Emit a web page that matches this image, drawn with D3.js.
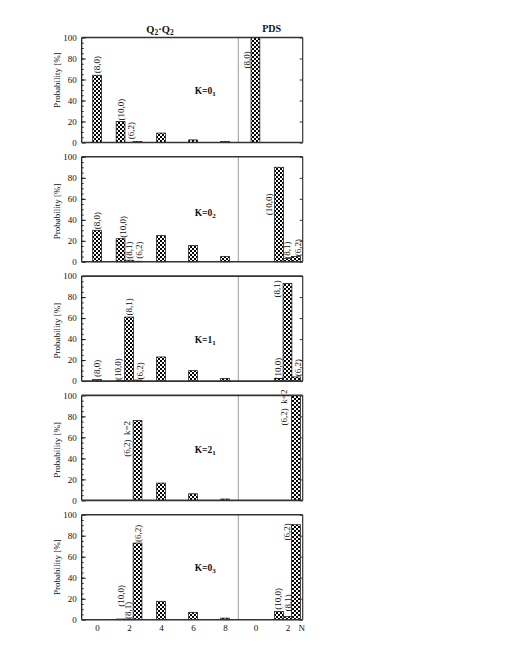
<!DOCTYPE html>
<html>
<head>
<meta charset="utf-8">
<script src="https://cdnjs.cloudflare.com/ajax/libs/d3/7.8.5/d3.min.js"></script>
<style>
  body { margin: 0; background: #fff; }
  svg { display: block; }
  text { font-family: "Liberation Serif", "Times New Roman", serif; fill: #111; }
</style>
</head>
<body>
<svg width="505" height="654"></svg>
<script>
// K state of each panel: [value, subscript]
const panelK = [["0", "1"], ["0", "2"], ["1", "1"], ["2", "1"], ["0", "3"]];

// bar slots (N); at N=2 the three irreps (10,0), (8,1), (6,2) sit side by side
const leftSlots = [0, 1.47, 2, 2.53, 4, 6, 8];
const rightSlots = [0, 1.47, 2, 2.53];

// probabilities [%] per panel, one value per slot
const leftValues = [
    [64, 20, 0, 1, 9, 2.5, 1],
    [30, 22, 1.5, 0.5, 25, 15.5, 5],
    [1.5, 0.5, 61, 1, 23, 10, 2.5],
    [0, 0, 0, 76, 16.5, 6.3, 1.3],
    [0, 0.6, 0.6, 73, 17.5, 7, 1.5]
];
const rightValues = [
    [100, 0, 0, 0],
    [0, 90, 3, 5],
    [0, 2.5, 93, 4],
    [0, 0, 0, 100],
    [0, 7.8, 3, 90.5]
];

// irrep labels: side, N position, height [%] where the text starts, text
const barLabels = [
    [["L", 0, 66, "(8,0)"], ["L", 1.5, 21, "(10,0)"], ["L", 2.12, 3, "(6,2)"],
     ["R", -0.55, 70.5, "(8,0)"]],
    [["L", 0, 31, "(8,0)"], ["L", 1.6, 23, "(10,0)"], ["L", 2.02, 2.8, "(8,1)"], ["L", 2.6, 2.8, "(6,2)"],
     ["R", 0.86, 44.4, "(10,0)"], ["R", 1.99, 2.8, "(8,1)"], ["R", 2.64, 5.3, "(6,2)"]],
    [["L", 0, 4, "(8,0)"], ["L", 1.33, 1, "(10,0)"], ["L", 2.02, 62.5, "(8,1)"], ["L", 2.69, 1.6, "(6,2)"],
     ["R", 1.32, 79.7, "(8,1)"], ["R", 1.39, 1.6, "(10,0)"], ["R", 2.64, 4.7, "(6,2)"]],
    [["L", 1.86, 41.5, "(6,2)  k=2"],
     ["R", 1.8, 71.4, "(6,2)  k=2"]],
    [["L", 1.48, 12.3, "(10,0)"], ["L", 1.96, 0.7, "(8,1)"], ["L", 2.59, 74, "(6,2)"],
     ["R", 1.39, 9.4, "(10,0)"], ["R", 2.01, 7.8, "(8,1)"], ["R", 1.98, 75.5, "(6,2)"]]
];

const yTicks = [0, 20, 40, 60, 80, 100];
const xTicksLeft = [0, 2, 4, 6, 8];
const xTicksRight = [0, 2];

// layout
const left = 81.7, mid = 238.3, right = 302.7;
const panelTop0 = 37.5, panelStep = 119.3, panelH = 105;
const barW = 8.8;
const kLabelN = 6.1;
const kLabelY = [46, 44, 36, 45, 46];
const yTitleShift = [-10, 2, 2, 2, 0];

const xL = d3.scaleLinear().domain([-0.96, 8.83]).range([left, mid]);
const xR = d3.scaleLinear().domain([-1.07, 2.95]).range([mid, right]);

const svg = d3.select("svg");

// dotted fill used by the bars
const pat = svg.append("defs").append("pattern")
    .attr("id", "dots")
    .attr("width", 4).attr("height", 4)
    .attr("patternUnits", "userSpaceOnUse");
pat.append("rect").attr("width", 4).attr("height", 4).attr("fill", "#fff");
pat.append("rect").attr("width", 2).attr("height", 2).attr("fill", "#000");
pat.append("rect").attr("x", 2).attr("y", 2).attr("width", 2).attr("height", 2).attr("fill", "#000");

// column titles
const title = svg.append("text")
    .attr("x", (left + mid) / 2).attr("y", 33)
    .attr("text-anchor", "middle")
    .style("font-size", "10.5px").style("font-weight", "bold");
title.append("tspan").text("Q");
title.append("tspan").attr("dy", 2).style("font-size", "7.5px").text("2");
title.append("tspan").attr("dy", -2).text("·Q");
title.append("tspan").attr("dy", 2).style("font-size", "7.5px").text("2");

svg.append("text")
    .attr("x", 271.7).attr("y", 32)
    .attr("text-anchor", "middle")
    .style("font-size", "10px").style("font-weight", "bold")
    .text("PDS");

panelK.forEach((k, i) => {
    const top = panelTop0 + i * panelStep;
    const y = d3.scaleLinear().domain([0, 100]).range([top + panelH, top]);
    const g = svg.append("g");

    // divider between the two sections
    g.append("line")
        .attr("x1", mid).attr("x2", mid)
        .attr("y1", top).attr("y2", top + panelH)
        .attr("stroke", "#999").attr("stroke-width", 1);

    // bars
    const bars = [];
    leftSlots.forEach((n, j) => { if (leftValues[i][j] > 0) bars.push({ x: xL(n), v: leftValues[i][j] }); });
    rightSlots.forEach((n, j) => { if (rightValues[i][j] > 0) bars.push({ x: xR(n), v: rightValues[i][j] }); });

    g.selectAll(".bar")
        .data(bars)
        .enter()
        .append("rect")
        .attr("class", "bar")
        .attr("x", d => d.x - barW / 2)
        .attr("y", d => y(d.v))
        .attr("width", barW)
        .attr("height", d => y(0) - y(d.v))
        .attr("fill", "url(#dots)")
        .attr("stroke", "#222")
        .attr("stroke-width", 0.8);

    // minor ticks every 5 %
    g.append("g")
        .attr("transform", `translate(${left},0)`)
        .call(d3.axisLeft(y).tickValues(d3.range(5, 100, 5)).tickSize(-2).tickFormat(""))
        .call(a => a.select(".domain").remove())
        .call(a => a.selectAll("line").attr("stroke", "#333"));

    // left axis
    g.append("g")
        .attr("transform", `translate(${left},0)`)
        .call(d3.axisLeft(y).tickValues(yTicks).tickSize(-4).tickPadding(5))
        .call(a => a.select(".domain").remove())
        .call(a => a.selectAll("line").attr("stroke", "#111"))
        .call(a => a.selectAll("text")
            .style("font-size", "9px")
            .style("font-family", "'Liberation Serif', serif"));

    // right axis ticks
    g.append("g")
        .attr("transform", `translate(${right},0)`)
        .call(d3.axisRight(y).tickValues(yTicks).tickSize(-3).tickFormat(""))
        .call(a => a.select(".domain").remove())
        .call(a => a.selectAll("line").attr("stroke", "#333"));

    // frame
    g.append("line").attr("x1", left).attr("x2", left).attr("y1", top).attr("y2", top + panelH)
        .attr("stroke", "#111").attr("stroke-width", 1.2);
    g.append("line").attr("x1", right).attr("x2", right).attr("y1", top).attr("y2", top + panelH)
        .attr("stroke", "#333").attr("stroke-width", 1.2);
    g.append("line").attr("x1", left).attr("x2", right).attr("y1", top).attr("y2", top)
        .attr("stroke", "#333").attr("stroke-width", 1.6);
    g.append("line").attr("x1", left).attr("x2", right).attr("y1", y(0)).attr("y2", y(0))
        .attr("stroke", "#333").attr("stroke-width", 1.6);

    // irrep labels, vertical
    g.selectAll(".lab")
        .data(barLabels[i])
        .enter()
        .append("text")
        .attr("class", "lab")
        .attr("transform", d => `translate(${(d[0] === "L" ? xL : xR)(d[1])},${y(d[2])}) rotate(-90)`)
        .attr("dy", "0.33em")
        .style("font-size", "9px")
        .style("white-space", "pre")
        .text(d => d[3]);

    // K label
    const kt = g.append("text")
        .attr("x", xL(kLabelN)).attr("y", y(kLabelY[i]))
        .style("font-size", "9.5px").style("font-weight", "bold");
    kt.append("tspan").text("K=" + k[0]);
    kt.append("tspan").attr("dy", 2).style("font-size", "7px").text(k[1]);

    // y title
    svg.append("text")
        .attr("transform", `translate(60,${top + panelH / 2 + yTitleShift[i]}) rotate(-90)`)
        .attr("text-anchor", "middle")
        .style("font-size", "9px")
        .text("Probability [%]");

    // x axis labels on the last panel
    if (i === panelK.length - 1) {
        g.append("g")
            .attr("transform", `translate(0,${y(0)})`)
            .call(d3.axisBottom(xL).tickValues(xTicksLeft).tickSize(0).tickPadding(5).tickFormat(d3.format("d")))
            .call(a => a.select(".domain").remove())
            .call(a => a.selectAll("text").style("font-size", "9px").style("font-family", "'Liberation Serif', serif"));
        g.append("g")
            .attr("transform", `translate(0,${y(0)})`)
            .call(d3.axisBottom(xR).tickValues(xTicksRight).tickSize(0).tickPadding(5).tickFormat(d3.format("d")))
            .call(a => a.select(".domain").remove())
            .call(a => a.selectAll("text").style("font-size", "9px").style("font-family", "'Liberation Serif', serif"));
        g.append("text")
            .attr("x", 301.7).attr("y", y(0) + 11.5)
            .attr("text-anchor", "middle")
            .style("font-size", "9px")
            .text("N");
    }
});
</script>
</body>
</html>
